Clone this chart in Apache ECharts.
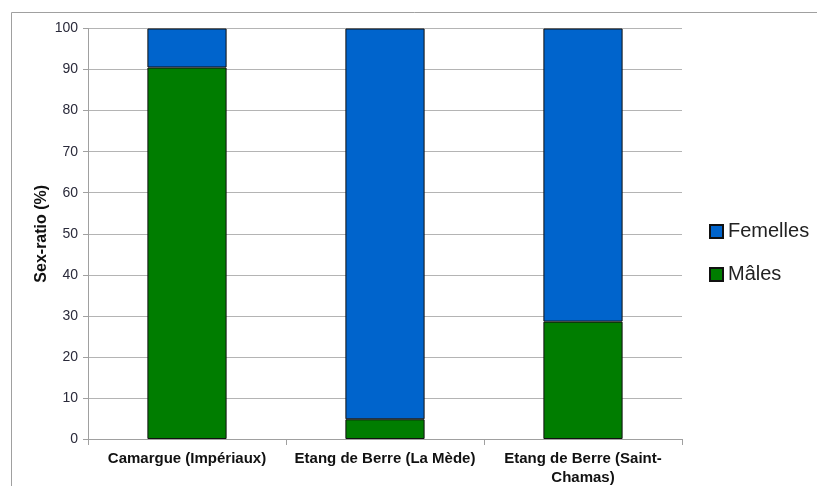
<!DOCTYPE html>
<html>
<head>
<meta charset="utf-8">
<script src="https://cdn.jsdelivr.net/npm/echarts@6/dist/echarts.min.js"></script>
<style>html,body{margin:0;padding:0;background:#fff;overflow:hidden}#c{width:817px;height:486px}</style>
</head>
<body>
<div id="c"></div>
<script>
const categories = ['Camargue (Impériaux)', 'Etang de Berre (La Mède)', 'Etang de Berre (Saint-\nChamas)'];
const males = [90.5, 4.8, 28.6];
const femelles = [9.5, 95.2, 71.4];
const yTicks = [0, 10, 20, 30, 40, 50, 60, 70, 80, 90, 100];

const chart = echarts.init(document.getElementById('c'), null, {renderer: 'canvas'});
chart.setOption({
  animation: false,
  backgroundColor: '#fff',
  graphic: [{
    type: 'rect', shape: {x: 11.5, y: 12.5, width: 820, height: 500},
    style: {fill: 'none', stroke: '#a0a0a0', lineWidth: 1}, silent: true, z: -1
  }],
  grid: {left: 88, top: 28.5, right: 135, bottom: 47, containLabel: false, outerBoundsMode: 'none'},
  legend: {
    orient: 'vertical', left: 709, top: 221, padding: 0,
    data: ['Femelles', 'Mâles'],
    icon: 'rect',
    itemWidth: 13, itemHeight: 13, itemGap: 22,
    textStyle: {fontFamily: 'Liberation Sans', fontSize: 20, color: '#222', lineHeight: 21}
  },
  xAxis: {
    type: 'category', data: categories,
    axisLine: {lineStyle: {color: '#a0a0a0'}},
    axisTick: {show: true, length: 6, lineStyle: {color: '#a0a0a0'}},
    axisLabel: {fontFamily: 'Liberation Sans', fontSize: 15, fontWeight: 'bold', color: '#111', margin: 10, lineHeight: 19, interval: 0}
  },
  yAxis: {
    type: 'value', min: 0, max: 100, interval: 10,
    name: 'Sex-ratio (%)', nameLocation: 'middle', nameGap: 38, nameRotate: 90, nameMoveOverlap: false,
    nameTextStyle: {fontFamily: 'Liberation Sans', fontSize: 16, fontWeight: 'bold', color: '#111'},
    axisLine: {show: true, lineStyle: {color: '#a0a0a0'}},
    axisTick: {show: true, length: 5, lineStyle: {color: '#a0a0a0'}},
    splitLine: {lineStyle: {color: '#b4b4b4'}},
    axisLabel: {fontFamily: 'Liberation Sans', fontSize: 14, color: '#2a2a3a', margin: 10,
      formatter: v => yTicks.includes(v) ? String(v) : ''}
  },
  series: [
    {name: 'Mâles', type: 'bar', stack: 's', data: males, barWidth: '40%',
     itemStyle: {color: '#007d00', borderColor: '#111', borderWidth: 1}},
    {name: 'Femelles', type: 'bar', stack: 's', data: femelles, barWidth: '40%',
     itemStyle: {color: '#0064cc', borderColor: '#111', borderWidth: 1}}
  ]
});
</script>
</body>
</html>
